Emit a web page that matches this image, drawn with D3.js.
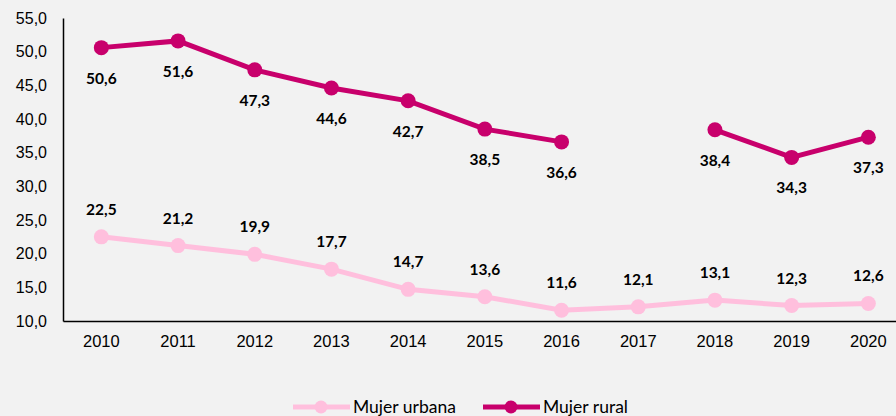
<!DOCTYPE html>
<html>
<head>
<meta charset="utf-8">
<script src="https://cdn.jsdelivr.net/npm/d3@7"></script>
<style>
  body { margin: 0; background: #f2f2f2; }
  svg { display: block; font-family: Lato, "Open Sans", sans-serif; }
</style>
</head>
<body>
<div id="chart"></div>
<script>
const years = [2010, 2011, 2012, 2013, 2014, 2015, 2016, 2017, 2018, 2019, 2020];
const urbana = [22.5, 21.2, 19.9, 17.7, 14.7, 13.6, 11.6, 12.1, 13.1, 12.3, 12.6];
const rural = [50.6, 51.6, 47.3, 44.6, 42.7, 38.5, 36.6, null, 38.4, 34.3, 37.3];
const yTicks = [10, 15, 20, 25, 30, 35, 40, 45, 50, 55];

const urbanColor = "#ffbfdd";
const ruralColor = "#c8006c";

const width = 896, height = 416;
const svg = d3.select("#chart").append("svg")
  .attr("width", width)
  .attr("height", height);

svg.append("rect").attr("width", width).attr("height", height).attr("fill", "#f2f2f2");

// band scale runs past right edge, like the source crop
const x = d3.scaleBand().domain(years).range([63, 63 + 76.7 * years.length]);
const cx = d => x(d) + x.bandwidth() / 2;
const y = d3.scaleLinear().domain([10, 55]).range([321, 18]);

const fmt = v => d3.format(".1f")(v).replace(".", ",");

// y axis
const yAxis = svg.append("g")
  .attr("transform", "translate(63,0)")
  .call(d3.axisLeft(y).tickValues(yTicks).tickFormat(fmt).tickSize(0).tickPadding(16));
yAxis.select(".domain").attr("stroke", "#000").attr("stroke-width", 1.5);
yAxis.selectAll("text").style("font-size", "16px").attr("fill", "#000");

// x axis
const xAxis = svg.append("g")
  .attr("transform", "translate(0,321)")
  .call(d3.axisBottom(x).tickSize(0).tickPadding(14));
xAxis.select(".domain").attr("stroke", "#000").attr("stroke-width", 1.5);
xAxis.selectAll("text").style("font-size", "16.5px").attr("fill", "#000");

const line = d3.line()
  .defined(d => d.v != null)
  .x(d => cx(d.year))
  .y(d => y(d.v));

function drawSeries(values, color, dy) {
  const pts = years.map((yr, i) => ({ year: yr, v: values[i] }));
  svg.append("path")
    .datum(pts)
    .attr("d", line)
    .attr("fill", "none")
    .attr("stroke", color)
    .attr("stroke-width", 5);

  const valid = pts.filter(d => d.v != null);
  svg.selectAll(null).data(valid).join("circle")
    .attr("cx", d => cx(d.year))
    .attr("cy", d => y(d.v))
    .attr("r", 7.5)
    .attr("fill", color);

  svg.selectAll(null).data(valid).join("text")
    .attr("x", d => cx(d.year))
    .attr("y", d => y(d.v) + dy)
    .attr("text-anchor", "middle")
    .style("font-size", "15.5px")
    .style("font-weight", "bold")
    .attr("fill", "#000")
    .text(d => fmt(d.v));
}

drawSeries(urbana, urbanColor, -22);
drawSeries(rural, ruralColor, 36);

// legend
const legend = [
  { name: "Mujer urbana", color: urbanColor, x: 293 },
  { name: "Mujer rural", color: ruralColor, x: 483 }
];
const lg = svg.append("g").attr("transform", "translate(0,407)");
legend.forEach(l => {
  lg.append("line")
    .attr("x1", l.x).attr("x2", l.x + 57)
    .attr("stroke", l.color).attr("stroke-width", 5);
  lg.append("circle").attr("cx", l.x + 28).attr("r", 6.5).attr("fill", l.color);
  lg.append("text")
    .attr("x", l.x + 60)
    .attr("y", 6)
    .style("font-size", "17.5px")
    .attr("fill", "#000")
    .text(l.name);
});
</script>
</body>
</html>
